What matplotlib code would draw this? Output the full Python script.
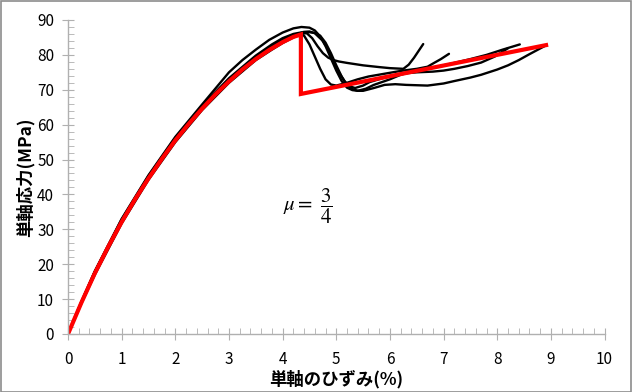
import matplotlib
matplotlib.use("Agg")
import matplotlib.pyplot as plt
from matplotlib.ticker import MultipleLocator
from matplotlib.patches import Rectangle

plt.rcParams['font.family'] = ['Noto Sans CJK JP', 'DejaVu Sans']
plt.rcParams['mathtext.fontset'] = 'stix'

# Model (red) curve
model_x = [0, 0.25, 0.5, 0.75, 1.0, 1.25, 1.5, 1.75, 2.0, 2.25, 2.5, 2.75, 3.0, 3.25, 3.5,
           3.75, 4.0, 4.2, 4.34, 4.34, 8.91]
model_y = [0, 9.0, 17.4, 25.0, 32.1, 38.6, 44.6, 50.2, 55.5, 60.2, 64.6, 68.7, 72.4, 75.8, 78.8,
           81.4, 83.65, 85.15, 85.85, 68.8, 82.8]

# Experimental (black) curves
a_x = [0, 0.25, 0.5, 1, 1.5, 2, 2.5, 3, 3.25, 3.5, 3.75, 4.0, 4.2, 4.35, 4.5, 4.6, 4.7, 4.8,
       4.9, 5.0, 5.1, 5.2, 5.3, 5.4, 5.55, 5.7, 6.0, 6.2, 6.5, 6.8, 7.17, 7.5, 7.8, 8.1, 8.42]
a_y = [0, 9.3, 18, 33, 45.5, 56.5, 65.8, 75, 78.5, 81.5, 84.3, 86.4, 87.6, 88, 87.8, 87.0, 85.3, 82.5,
       79, 75.5, 72.5, 70.6, 69.9, 69.7, 70.3, 71.4, 73.0, 74.3, 75.5, 76.3, 77.6, 78.8, 80, 81.5, 83]
b_x = [0, 0.25, 0.5, 1, 1.5, 2, 2.5, 3, 3.5, 3.8, 4.0, 4.2, 4.4, 4.5, 4.6, 4.7, 4.8, 4.9, 5.0,
       5.1, 5.2, 5.3, 5.4, 5.5, 5.7, 5.9, 6.1, 6.3, 6.5, 6.7, 7.0, 7.2, 7.5, 7.7, 8.0, 8.2, 8.4,
       8.6, 8.88]
b_y = [0, 8.8, 17, 31.7, 44.2, 55, 64.2, 72, 78.5, 81.5, 83.4, 85, 86.2, 86.5, 86.3, 85.5, 83.5, 80.5, 77,
       73.8, 71.4, 70.2, 69.7, 69.7, 70.5, 71.4, 71.6, 71.4, 71.3, 71.2, 71.8, 72.5, 73.5, 74.3, 75.8, 77,
       78.5, 80.2, 82.5]
c_x = [0, 0.25, 0.5, 1, 1.5, 2, 2.5, 3, 3.5, 3.8, 4.0, 4.15, 4.3, 4.4, 4.5, 4.6, 4.7, 4.8, 4.9,
       5.0, 5.2, 5.4, 5.6, 5.9, 6.2, 6.5, 6.7, 6.8, 6.95, 7.1]
c_y = [0, 9, 17.4, 32, 44.6, 55.5, 64.6, 72.4, 78.8, 82, 84, 85.3, 86, 85.5, 83, 79.5, 76, 73, 71.5,
       71.2, 72, 73, 73.8, 74.6, 75.4, 76, 76.6, 77.5, 78.8, 80.3]
d_x = [0, 0.25, 0.5, 1, 1.5, 2, 2.5, 3, 3.5, 3.8, 4.0, 4.2, 4.35, 4.45, 4.55, 4.65, 4.75, 4.85,
       4.95, 5.05, 5.2, 5.5, 5.8, 6.0, 6.25, 6.35, 6.45, 6.55, 6.62]
d_y = [0, 9.1, 17.7, 32.5, 45, 56, 65.2, 73, 79.5, 82.6, 84.3, 85.7, 86.3, 86.2, 84.8, 82.5, 80.5, 79.2,
       78.5, 78.1, 77.7, 77.0, 76.5, 76.2, 76.0, 77.2, 79.2, 81.5, 83.1]
e_x = [0, 0.25, 0.5, 1, 1.5, 2, 2.5, 3, 3.5, 3.8, 4.0, 4.2, 4.4, 4.5, 4.6, 4.75, 4.85, 4.95, 5.05,
       5.15, 5.25, 5.35, 5.5, 5.62, 5.9, 6.2, 6.5, 6.8, 7.0, 7.2, 7.45, 7.7, 7.95, 8.2]
e_y = [0, 9.2, 17.9, 32.8, 45.3, 56.2, 65.4, 73.3, 79.8, 83, 84.8, 86, 86.6, 86.7, 86.2, 84, 81.5, 78, 75,
       72.5, 71, 70.5, 71.2, 72.2, 73.5, 74.6, 75, 75.2, 75.5, 76, 76.8, 77.8, 79.5, 81.9]

x_ticks = list(range(0, 11))
y_ticks = list(range(0, 91, 10))

fig = plt.figure(figsize=(6.32, 3.92), dpi=100)
fig.patches.append(Rectangle((0.001, 0.001), 0.997, 0.996, transform=fig.transFigure,
                             fill=False, edgecolor='#8c8c8c', linewidth=1.2))
ax = fig.add_axes([0.1076, 0.148, 0.849, 0.801])

for xs, ys in [(a_x, a_y), (b_x, b_y), (c_x, c_y), (d_x, d_y), (e_x, e_y)]:
    ax.plot(xs, ys, color='black', linewidth=1.7, solid_capstyle='round', solid_joinstyle='round')
ax.plot(model_x, model_y, color='#ff0000', linewidth=3.0, solid_joinstyle='miter')

ax.set_xlim(0, 10)
ax.set_ylim(0, 90)
ax.set_xticks(x_ticks)
ax.set_yticks(y_ticks)
ax.xaxis.set_minor_locator(MultipleLocator(0.2))
ax.yaxis.set_minor_locator(MultipleLocator(2))
for s in ['top', 'right']:
    ax.spines[s].set_visible(False)
for s in ['left', 'bottom']:
    ax.spines[s].set_color('#b0b0b0')
    ax.spines[s].set_linewidth(1)
ax.tick_params(which='major', direction='inout', length=8, color='#b0b0b0', labelsize=11, pad=6)
ax.tick_params(which='minor', direction='in', length=4, color='#b0b0b0')
ax.tick_params(axis='x', which='major', pad=8)

ax.set_xlabel('単軸のひずみ(%)', fontsize=12.5, fontweight='bold', labelpad=2)
ax.set_ylabel('単軸応力(MPa)', fontsize=12.5, fontweight='bold', labelpad=2)

ax.text(4.0, 36.5, r'$\mu =\ \dfrac{3}{4}$', fontsize=15, va='center', ha='left')

fig.savefig('out.png', dpi=100)
